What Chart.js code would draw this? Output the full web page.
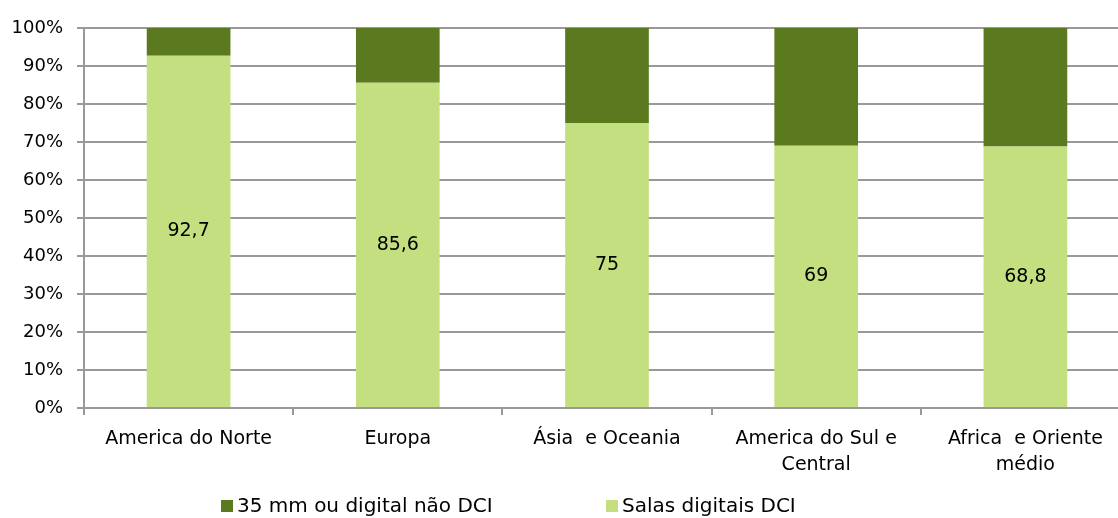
<!DOCTYPE html>
<html>
<head>
<meta charset="utf-8">
<script src="https://cdn.jsdelivr.net/npm/chart.js@4"></script>
<style>
  html, body { margin: 0; padding: 0; background: #fff; overflow: hidden; }
  #wrap { position: relative; width: 1130px; height: 518px; }
</style>
</head>
<body>
<div id="wrap"><canvas id="salas"></canvas></div>
<script>
const regions = [
  "America do Norte",
  "Europa",
  "Ásia  e Oceania",
  ["America do Sul e", "Central"],
  ["Africa  e Oriente", "médio"],
];
const salasDigitaisDCI = [92.7, 85.6, 75, 69, 68.8];
const naoDCI = [7.3, 14.4, 25, 31, 31.2];

const FONT = "'DejaVu Sans', sans-serif";
const gridGrey = "#999999";

// values inside the light bars, with a decimal comma
const barValues = {
  id: "barValues",
  afterDatasetsDraw(chart) {
    const ctx = chart.ctx;
    const meta = chart.getDatasetMeta(0);
    ctx.save();
    ctx.font = "19px " + FONT;
    ctx.fillStyle = "#000";
    ctx.textAlign = "center";
    ctx.textBaseline = "middle";
    meta.data.forEach((bar, i) => {
      const v = chart.data.datasets[0].data[i];
      ctx.fillText(String(v).replace(".", ","), bar.x, (bar.y + bar.base) / 2);
    });
    ctx.restore();
  },
};

// legend at the bottom, dark series first
const bottomLegend = {
  id: "bottomLegend",
  afterDraw(chart, args, opts) {
    const ctx = chart.ctx;
    const items = [chart.data.datasets[1], chart.data.datasets[0]];
    ctx.save();
    ctx.font = "20px " + FONT;
    ctx.textBaseline = "middle";
    const box = 12, gap = 4;
    let x = opts.left;
    items.forEach((d) => {
      ctx.fillStyle = d.backgroundColor;
      ctx.fillRect(x, opts.y - box / 2, box, box);
      ctx.fillStyle = "#000";
      ctx.fillText(d.label, x + box + gap, opts.y + 1);
      x += opts.step;
    });
    ctx.restore();
  },
};

const config = {
  type: "bar",
  data: {
    labels: regions,
    datasets: [
      {
        label: "Salas digitais DCI",
        data: salasDigitaisDCI,
        backgroundColor: "#c3df7f",
      },
      {
        label: "35 mm ou digital não DCI",
        data: naoDCI,
        backgroundColor: "#5b7a1f",
      },
    ],
  },
  options: {
    responsive: true,
    maintainAspectRatio: false,
    animation: false,
    categoryPercentage: 1,
    barPercentage: 0.4,
    layout: { padding: { top: 28, bottom: 30, left: 0, right: 0 } },
    scales: {
      x: {
        stacked: true,
        grid: {
          display: true,
          drawOnChartArea: false,
          tickLength: 7,
          color: gridGrey,
          lineWidth: 2,
        },
        border: { color: gridGrey, width: 2 },
        ticks: {
          color: "#000",
          font: { family: FONT, size: 19, lineHeight: 1.32 },
          padding: 12,
          maxRotation: 0,
          autoSkip: false,
        },
        afterFit(scale) {
          scale.height = 80;
        },
      },
      y: {
        stacked: true,
        min: 0,
        max: 100,
        grid: { color: gridGrey, lineWidth: 2, tickLength: 7 },
        border: { color: gridGrey, width: 2 },
        ticks: {
          stepSize: 10,
          color: "#000",
          font: { family: FONT, size: 18 },
          padding: 14,
          callback: (v) => v + "%",
        },
        afterFit(scale) {
          scale.width = 84;
        },
      },
    },
    plugins: {
      legend: { display: false },
      tooltip: { enabled: false },
      bottomLegend: { left: 221, step: 385, y: 506 },
    },
  },
  plugins: [barValues, bottomLegend],
};

const salasChart = new Chart(document.getElementById("salas"), config);
</script>
</body>
</html>
